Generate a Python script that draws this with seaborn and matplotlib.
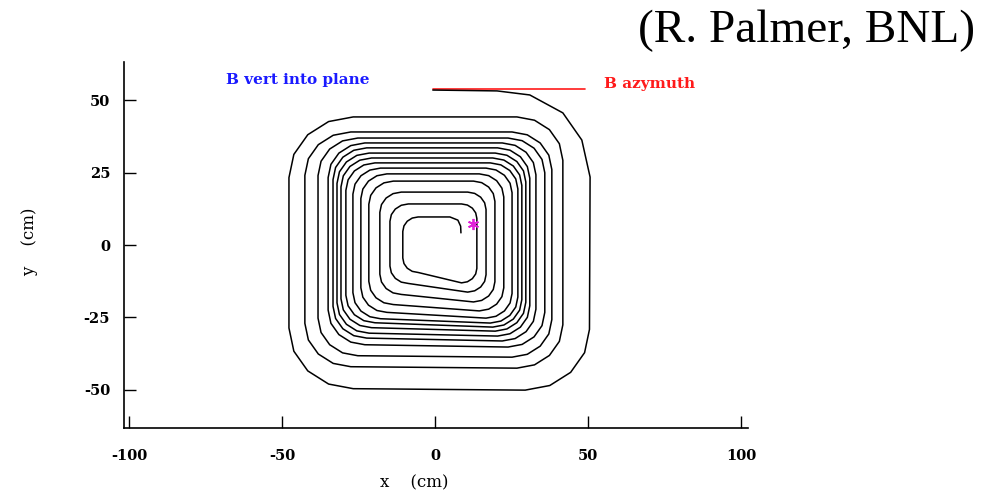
import numpy as np
import pandas as pd
import matplotlib
matplotlib.use("Agg")
import matplotlib.pyplot as plt
import seaborn as sns

# ---------------- data (data units = cm) ----------------
# entry of the track along the top (B azimuthal region), then spiral inward
entry_x = [-0.7, 20.3, 31.0, 41.8, 48.0, 50.7]
entry_y = [53.6, 53.3, 51.9, 45.7, 36.3, 23.5]

# loops of the spiral, outer -> inner: side positions and corner radius
loop_right = [50.5, 41.8, 38.2, 35.9, 33.0, 31.0, 29.7, 28.4, 27.1, 25.2, 22.5, 19.6, 16.7, 13.7]
loop_bottom = [-50.2, -42.6, -38.8, -35.3, -33.2, -31.5, -29.8, -28.4, -27.0, -25.3, -22.8, -19.7, -16.3, -13.1]
loop_bottom_drop = [0.5, 0.5, 0.5, 0.8, 1.0, 1.0, 1.2, 1.5, 1.5, 2.0, 2.2, 2.6, 3.0, 3.6]
loop_left = [-47.7, -42.5, -38.2, -34.9, -33.3, -32.0, -30.7, -29.1, -26.8, -24.2, -21.6, -18.0, -14.7, -10.5]
loop_top = [44.3, 39.1, 37.0, 35.3, 33.6, 31.8, 30.1, 28.4, 26.6, 24.6, 22.1, 18.3, 14.2, 9.7]
loop_corner = [21, 15, 13, 12, 11, 10.5, 10, 9.5, 9, 8.5, 8, 7, 6, 5]

# end of the track near the centre
end_x = [4.9, 7.5, 8.4, 8.5]
end_y = [9.7, 8.6, 6.5, 4.2]

# marker and field indicator line
star_x = [12.4]
star_y = [7.3]
field_line_x = [-0.7, 49.0]
field_line_y = [54.0, 54.0]

x_ticks = [-100, -50, 0, 50, 100]
y_ticks = [-50, -25, 0, 25, 50]

# ---------------- build the track polyline from the loop sides ----------------
def arc(cx, cy, r, a0, a1, n=4):
    angs = np.deg2rad(np.linspace(a0, a1, n + 1))
    return [(cx + r * np.cos(a), cy + r * np.sin(a)) for a in angs]

pts = list(zip(entry_x, entry_y))
t_prev = entry_y[0]
for k in range(len(loop_right)):
    R, B, L, T, r = loop_right[k], loop_bottom[k], loop_left[k], loop_top[k], loop_corner[k]
    d = loop_bottom_drop[k]
    if k > 0:
        pts += arc(R - r, t_prev - r, r, 90, 0)
    pts += arc(R - r, B + r, r, 0, -90)
    pts += arc(L + r, B + d + r, r, -90, -180)
    pts += arc(L + r, T - r, r, 180, 90)
    t_prev = T
pts += list(zip(end_x, end_y))

track = pd.DataFrame({"x": [p[0] for p in pts], "y": [p[1] for p in pts],
                      "order": np.arange(len(pts))})

# ---------------- figure ----------------
sns.set_style("ticks")
plt.rcParams["axes.unicode_minus"] = False
plt.rcParams["font.family"] = ["DejaVu Serif", "DejaVu Sans"]
plt.rcParams["text.color"] = "black"
plt.rcParams["axes.labelcolor"] = "black"
plt.rcParams["xtick.color"] = "black"
plt.rcParams["ytick.color"] = "black"

fig = plt.figure(figsize=(9.91, 4.94), dpi=100)
ax = fig.add_axes([124 / 991, 1 - 428 / 494, 624 / 991, 366 / 494])

sns.lineplot(x=field_line_x, y=field_line_y, color="#ff1a1a", lw=1.2, ax=ax,
             sort=False, estimator=None)
sns.lineplot(data=track, x="x", y="y", sort=False, estimator=None,
             color="black", lw=1.1, ax=ax)
ax.plot(star_x, star_y, linestyle="none", marker=(6, 2, 0), markersize=8,
        markeredgewidth=1.3, color="#e020d8")

ax.set_xlim(-101.6, 102.3)
ax.set_ylim(-63.3, 63.3)
ax.set_xticks(x_ticks)
ax.set_yticks(y_ticks)
ax.set_xticklabels([str(v) for v in x_ticks], fontweight="bold", fontsize=10.5, color="black")
ax.set_yticklabels([str(v) for v in y_ticks], fontweight="bold", fontsize=10.5, color="black")
ax.tick_params(axis="both", direction="in", length=8.5, width=1.0, color="black")
ax.tick_params(axis="x", pad=15)
ax.tick_params(axis="y", pad=10)

for s in ["top", "right"]:
    ax.spines[s].set_visible(False)
for s in ["left", "bottom"]:
    ax.spines[s].set_linewidth(1.2)
    ax.spines[s].set_color("black")

ax.set_xlabel("x    (cm)", fontsize=12, color="black")
ax.set_ylabel("y    (cm)", fontsize=12, color="black")
ax.xaxis.set_label_coords(0.465, -0.128)
ax.yaxis.set_label_coords(-0.138, 0.508)

ax.text(-68.3, 57.1, "B vert into plane", color="#1a1aff", fontsize=11,
        fontweight="bold", ha="left", va="center")
ax.text(55.2, 55.7, "B azymuth", color="#ff1a1a", fontsize=11,
        fontweight="bold", ha="left", va="center")

fig.text(975 / 991, 1 - 31 / 494, "(R. Palmer, BNL)", family="Liberation Serif",
         fontsize=34, ha="right", va="center", color="black")

fig.savefig("out.png", dpi=100)
